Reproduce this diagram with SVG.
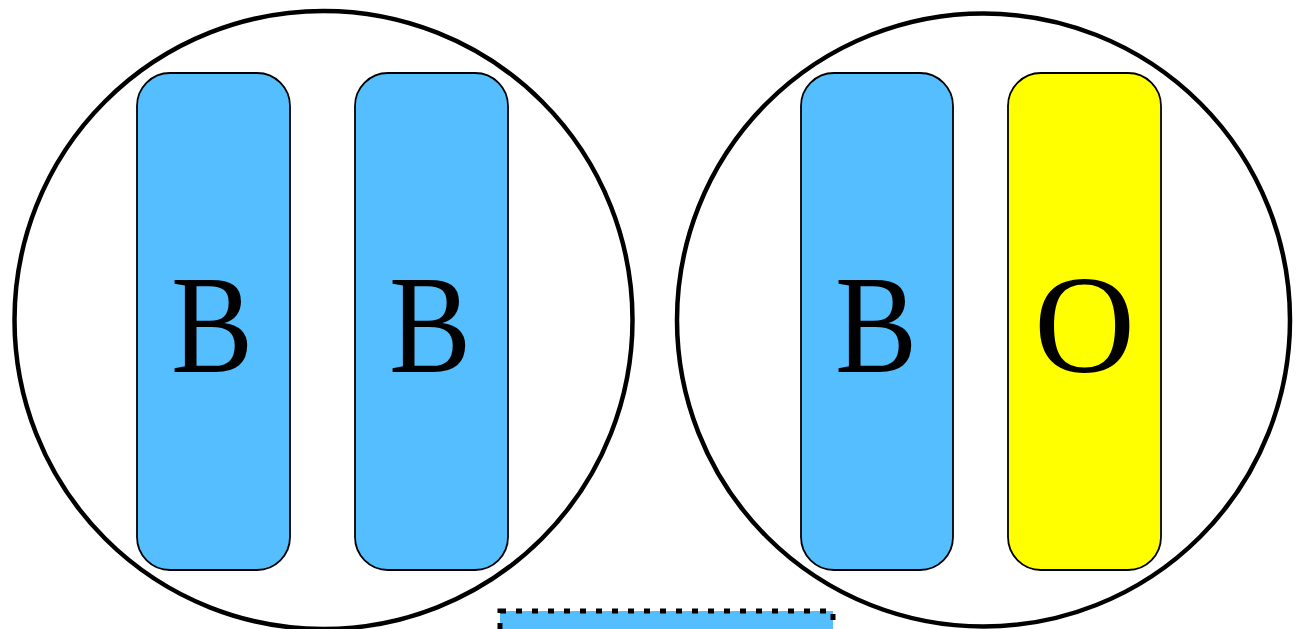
<svg xmlns="http://www.w3.org/2000/svg" width="1296" height="629" viewBox="0 0 1296 629">
<style>
.ring{fill:none;stroke:#000;stroke-width:4.5}
.bar{stroke:#000;stroke-width:1.8}
.blue{fill:#55BEFF}
.yellow{fill:#FFFF00}
.lbl{font-family:'Liberation Serif','Times New Roman',Times,serif;font-size:140px;text-anchor:middle;fill:#000}
</style>
<rect width="1296" height="629" fill="#fff"/>
<g id="group-left">
<circle class="ring" cx="323.5" cy="320" r="309"/>
</g>
<g id="group-right">
<circle class="ring" cx="983.5" cy="320" r="306.5"/>
</g>
<g id="node-b1">
<rect class="bar blue" x="137" y="73" width="153" height="497" rx="33"/>
<text class="lbl" transform="translate(212 372) scale(0.88 1)">B</text>
</g>
<g id="node-b2">
<rect class="bar blue" x="355" y="73" width="153" height="497" rx="33"/>
<text class="lbl" transform="translate(430 372) scale(0.88 1)">B</text>
</g>
<g id="node-b3">
<rect class="bar blue" x="801" y="73" width="152" height="497" rx="33"/>
<text class="lbl" transform="translate(876 372) scale(0.88 1)">B</text>
</g>
<g id="node-o">
<rect class="bar yellow" x="1008" y="73" width="153" height="497" rx="33"/>
<text class="lbl" x="1084.5" y="372">O</text>
</g>
<g id="node-bottom">
<rect x="500" y="611" width="333" height="100" fill="#55BEFF" stroke="#000" stroke-width="5" stroke-dasharray="6 10"/>
</g>
<g id="connectors"></g>
</svg>
